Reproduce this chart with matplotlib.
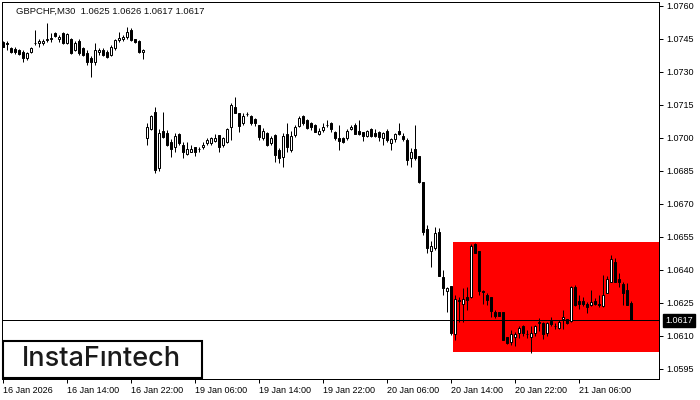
import matplotlib
matplotlib.use('Agg')
import matplotlib.pyplot as plt
from matplotlib.patches import Rectangle
from matplotlib.transforms import blended_transform_factory

# GBPCHF M30 bars, 16 Jan 06:00 -> 21 Jan 12:30
opens = [
    1.07436, 1.07430, 1.07406, 1.07402, 1.07400, 1.07391, 1.07360, 1.07388, 1.07430, 1.07430,
    1.07430, 1.07444, 1.07450, 1.07474, 1.07447, 1.07474, 1.07429, 1.07447, 1.07399, 1.07440,
    1.07406, 1.07386, 1.07360, 1.07345, 1.07388, 1.07399, 1.07391, 1.07376, 1.07406, 1.07444,
    1.07447, 1.07456, 1.07490, 1.07447, 1.07440, 1.07391,
    1.06997, 1.07038, 1.07119, 1.06861, 1.07031, 1.07020, 1.06982, 1.06956, 1.07017, 1.06967,
    1.06926, 1.06937, 1.06956, 1.06947, 1.06956, 1.06978, 1.06978, 1.06987, 1.07010, 1.06967,
    1.06982, 1.07047, 1.07141, 1.07111, 1.07065, 1.07108, 1.07099, 1.07084, 1.07058, 1.06997,
    1.07020, 1.06978, 1.07013, 1.06944, 1.06914, 1.07017, 1.06944, 1.07013, 1.07053, 1.07099,
    1.07081, 1.07065, 1.07058, 1.07017, 1.07035, 1.07058, 1.07065, 1.07028, 1.06997, 1.06997,
    1.06997, 1.07038, 1.07058, 1.07032, 1.07028, 1.07008, 1.07038, 1.07020, 1.07028, 1.06997,
    1.07032, 1.06978, 1.06994, 1.07032, 1.07008, 1.06990, 1.06906, 1.06947, 1.06917, 1.06800,
    1.06584, 1.06487, 1.06497, 1.06573, 1.06366, 1.06305, 1.06326, 1.06108, 1.06263, 1.06245,
    1.06278, 1.06275, 1.06517, 1.06487, 1.06301, 1.06286, 1.06278, 1.06210, 1.06210, 1.06210,
    1.06096, 1.06073, 1.06093, 1.06114, 1.06145, 1.06108, 1.06093, 1.06114, 1.06157, 1.06157,
    1.06114, 1.06169, 1.06142, 1.06134, 1.06175, 1.06175, 1.06169, 1.06320, 1.06260, 1.06260,
    1.06245, 1.06240, 1.06260, 1.06245, 1.06233, 1.06296, 1.06346, 1.06437, 1.06357, 1.06335,
    1.06308, 1.06250,
]
highs = [
    1.07440, 1.07440, 1.07414, 1.07410, 1.07405, 1.07400, 1.07390, 1.07414, 1.07490, 1.07447,
    1.07447, 1.07520, 1.07474, 1.07480, 1.07467, 1.07480, 1.07474, 1.07455, 1.07441, 1.07447,
    1.07414, 1.07399, 1.07371, 1.07429, 1.07406, 1.07406, 1.07400, 1.07420, 1.07450, 1.07482,
    1.07467, 1.07505, 1.07497, 1.07450, 1.07444, 1.07403,
    1.07065, 1.07103, 1.07141, 1.07038, 1.07119, 1.07035, 1.06994, 1.07020, 1.07020, 1.06982,
    1.06982, 1.06967, 1.06959, 1.06959, 1.06982, 1.06997, 1.07005, 1.07017, 1.07013, 1.07005,
    1.07043, 1.07156, 1.07184, 1.07111, 1.07111, 1.07119, 1.07103, 1.07088, 1.07058, 1.07043,
    1.07025, 1.07008, 1.07017, 1.06952, 1.07020, 1.07065, 1.07032, 1.07058, 1.07099, 1.07103,
    1.07084, 1.07070, 1.07062, 1.07043, 1.07068, 1.07080, 1.07070, 1.07032, 1.07058, 1.07005,
    1.07040, 1.07058, 1.07068, 1.07080, 1.07028, 1.07035, 1.07043, 1.07038, 1.07032, 1.07028,
    1.07038, 1.06997, 1.07023, 1.07068, 1.07023, 1.06997, 1.06952, 1.07058, 1.06917, 1.06800,
    1.06603, 1.06532, 1.06596, 1.06588, 1.06400, 1.06323, 1.06326, 1.06285, 1.06278, 1.06316,
    1.06320, 1.06517, 1.06523, 1.06487, 1.06308, 1.06293, 1.06278, 1.06217, 1.06210, 1.06210,
    1.06096, 1.06126, 1.06119, 1.06142, 1.06149, 1.06126, 1.06142, 1.06149, 1.06180, 1.06164,
    1.06164, 1.06184, 1.06157, 1.06172, 1.06217, 1.06178, 1.06326, 1.06330, 1.06286, 1.06278,
    1.06251, 1.06308, 1.06270, 1.06286, 1.06376, 1.06372, 1.06467, 1.06452, 1.06384, 1.06342,
    1.06338, 1.06260,
]
lows = [
    1.07410, 1.07400, 1.07386, 1.07380, 1.07375, 1.07345, 1.07353, 1.07383, 1.07420, 1.07414,
    1.07420, 1.07437, 1.07437, 1.07459, 1.07437, 1.07425, 1.07425, 1.07380, 1.07395, 1.07378,
    1.07370, 1.07330, 1.07277, 1.07330, 1.07376, 1.07370, 1.07360, 1.07370, 1.07400, 1.07437,
    1.07440, 1.07450, 1.07440, 1.07430, 1.07383, 1.07356,
    1.06967, 1.07035, 1.06838, 1.06850, 1.06997, 1.06960, 1.06914, 1.06937, 1.06967, 1.06906,
    1.06922, 1.06937, 1.06917, 1.06937, 1.06947, 1.06967, 1.06967, 1.06982, 1.06937, 1.06959,
    1.06975, 1.06990, 1.07111, 1.07028, 1.07058, 1.07099, 1.07058, 1.07053, 1.06990, 1.06990,
    1.06960, 1.06967, 1.06891, 1.06887, 1.06866, 1.06937, 1.06937, 1.07005, 1.07047, 1.07058,
    1.07040, 1.07035, 1.07025, 1.07013, 1.07028, 1.07047, 1.07028, 1.06990, 1.06944, 1.06978,
    1.06990, 1.07035, 1.07017, 1.07013, 1.06987, 1.07005, 1.07005, 1.07005, 1.06987, 1.06967,
    1.06982, 1.06944, 1.06982, 1.07013, 1.06987, 1.06876, 1.06868, 1.06899, 1.06796, 1.06558,
    1.06475, 1.06414, 1.06490, 1.06373, 1.06285, 1.06210, 1.06104, 1.06081, 1.06164, 1.06164,
    1.06217, 1.06270, 1.06475, 1.06286, 1.06245, 1.06240, 1.06184, 1.06180, 1.06190, 1.06081,
    1.06062, 1.06058, 1.06054, 1.06089, 1.06099, 1.06089, 1.06023, 1.06099, 1.06123, 1.06084,
    1.06099, 1.06142, 1.06130, 1.06130, 1.06130, 1.06154, 1.06164, 1.06236, 1.06221, 1.06233,
    1.06205, 1.06233, 1.06240, 1.06230, 1.06230, 1.06293, 1.06342, 1.06342, 1.06323, 1.06240,
    1.06240, 1.06170,
]
closes = [
    1.07414, 1.07428, 1.07388, 1.07388, 1.07381, 1.07360, 1.07383, 1.07406, 1.07432, 1.07440,
    1.07440, 1.07447, 1.07452, 1.07462, 1.07459, 1.07429, 1.07470, 1.07383, 1.07432, 1.07383,
    1.07376, 1.07345, 1.07345, 1.07399, 1.07399, 1.07376, 1.07368, 1.07414, 1.07444, 1.07452,
    1.07456, 1.07482, 1.07444, 1.07437, 1.07391, 1.07399,
    1.07050, 1.07099, 1.06853, 1.07020, 1.07005, 1.06967, 1.06947, 1.07008, 1.06978, 1.06937,
    1.06947, 1.06947, 1.06937, 1.06947, 1.06967, 1.06990, 1.06997, 1.06997, 1.06956, 1.06997,
    1.07038, 1.07149, 1.07114, 1.07053, 1.07099, 1.07108, 1.07065, 1.07065, 1.07005, 1.07032,
    1.06967, 1.06997, 1.06922, 1.06906, 1.07008, 1.06956, 1.07008, 1.07050, 1.07088, 1.07065,
    1.07043, 1.07047, 1.07028, 1.07032, 1.07050, 1.07058, 1.07040, 1.06997, 1.06987, 1.06982,
    1.07032, 1.07050, 1.07017, 1.07017, 1.07008, 1.07032, 1.07008, 1.07008, 1.07005, 1.07020,
    1.06990, 1.06994, 1.07017, 1.07017, 1.06994, 1.06899, 1.06937, 1.06906, 1.06800, 1.06573,
    1.06497, 1.06508, 1.06565, 1.06373, 1.06316, 1.06316, 1.06114, 1.06266, 1.06259, 1.06266,
    1.06263, 1.06508, 1.06475, 1.06301, 1.06298, 1.06263, 1.06214, 1.06190, 1.06190, 1.06081,
    1.06066, 1.06108, 1.06108, 1.06134, 1.06114, 1.06108, 1.06114, 1.06142, 1.06164, 1.06108,
    1.06157, 1.06154, 1.06142, 1.06164, 1.06184, 1.06157, 1.06323, 1.06240, 1.06245, 1.06245,
    1.06230, 1.06255, 1.06245, 1.06240, 1.06286, 1.06357, 1.06448, 1.06346, 1.06346, 1.06296,
    1.06240, 1.06170,
]

# time axis labels every 16 bars (8 hours)
time_labels = ['16 Jan 2026', '16 Jan 14:00', '16 Jan 22:00', '19 Jan 06:00', '19 Jan 14:00',
               '19 Jan 22:00', '20 Jan 06:00', '20 Jan 14:00', '20 Jan 22:00', '21 Jan 06:00']
label_bars = [0, 16, 32, 48, 64, 80, 96, 112, 128, 144]
price_ticks = [1.0595, 1.0610, 1.0625, 1.0640, 1.0655, 1.0670, 1.0685, 1.0700,
               1.0715, 1.0730, 1.0745, 1.0760]

# pattern zone (red rectangle)
zone_start = 112.5
zone_low = 1.06027
zone_high = 1.06525

W, H = 700, 400
fig = plt.figure(figsize=(W / 100, H / 100), dpi=100)
fig.patch.set_facecolor('white')
ax = fig.add_axes([2 / W, (H - 379) / H, 657 / W, 377 / H])
ax.set_facecolor('white')

n = len(opens)
xs = list(range(n))
lw = 0.72

ax.add_patch(Rectangle((zone_start, zone_low), 200, zone_high - zone_low,
                       facecolor='#ff0000', edgecolor='none', zorder=1))

ax.axhline(closes[-1], color='black', lw=lw, zorder=2)

ax.vlines(xs, lows, highs, color='black', lw=lw, zorder=3)
bottoms = [min(o, c) for o, c in zip(opens, closes)]
heights = [abs(c - o) for o, c in zip(opens, closes)]
colors = ['white' if c >= o else 'black' for o, c in zip(opens, closes)]
ax.bar(xs, heights, bottom=bottoms, width=0.5, color=colors,
       edgecolor='black', linewidth=lw, zorder=4)

ax.set_xlim(-0.25, 164)
ax.set_ylim(1.059032, 1.076168)

ax.yaxis.tick_right()
ax.set_yticks(price_ticks)
ax.set_yticklabels([f'{p:.4f}' for p in price_ticks])
ax.set_xticks(label_bars)
ax.set_xticklabels(time_labels)
for lbl in ax.get_xticklabels():
    lbl.set_ha('left')

ax.tick_params(axis='both', length=3, width=lw, color='black', labelsize=6.5,
               labelcolor='black')
ax.tick_params(axis='y', pad=2.5)
ax.tick_params(axis='x', pad=2)
for lbl in ax.get_xticklabels() + ax.get_yticklabels():
    lbl.set_fontfamily('Liberation Sans')

for sp in ax.spines.values():
    sp.set_color('black')
    sp.set_linewidth(lw)

# current price tag
trans = blended_transform_factory(ax.transAxes, ax.transData)
ax.text(1.0093, closes[-1], f'{closes[-1]:.4f}', transform=trans, ha='left', va='center',
        fontsize=6.5, family='Liberation Sans', color='white', clip_on=False,
        bbox=dict(boxstyle='square,pad=0.25', facecolor='black', edgecolor='black'))

# header
fig.text(16 / W, (H - 11.5) / H,
         f'GBPCHF,M30  {opens[-1]:.4f} {highs[-1]:.4f} {lows[-1]:.4f} {closes[-1]:.4f}',
         ha='left', va='center', fontsize=6.8, family='Liberation Sans', color='#111111')

# logo
fig.patches.append(Rectangle((3.3 / W, (H - 378.3) / H), 198.4 / W, 37.6 / H,
                             transform=fig.transFigure, facecolor='white',
                             edgecolor='black', linewidth=1.5, zorder=5))
fig.text(101.5 / W, (H - 359) / H, 'InstaFıntech', ha='center', va='center',
         fontsize=19.5, family=['Inter', 'DejaVu Sans'], fontweight='medium',
         color='#1a1a1a', zorder=6)

fig.savefig('out.png', dpi=100)
